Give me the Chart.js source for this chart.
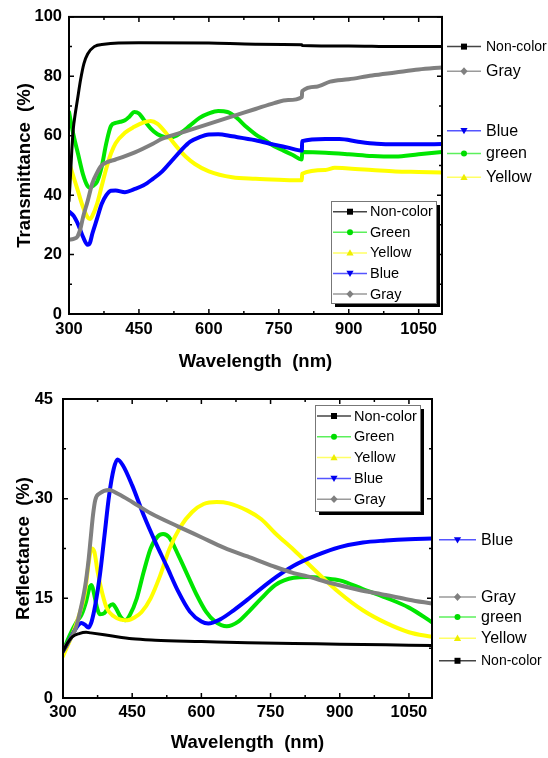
<!DOCTYPE html>
<html>
<head>
<meta charset="utf-8">
<script src="https://cdn.jsdelivr.net/npm/chart.js@4.4.1/dist/chart.umd.min.js"></script>
<style>
  html, body { margin: 0; padding: 0; background: #fff; }
  #wrap { position: relative; width: 548px; height: 758px; }
  .panel { position: absolute; left: 0; width: 548px; }
  #topPanel { top: 0; height: 375px; }
  #botPanel { top: 375px; height: 383px; }
</style>
</head>
<body>
<div id="wrap">
  <div class="panel" id="topPanel"><canvas id="transChart"></canvas></div>
  <div class="panel" id="botPanel"><canvas id="reflChart"></canvas></div>
</div>
<script>
// ---- Axis ticks ----
const xTicks = [300, 450, 600, 750, 900, 1050];
const yTicksT = [0, 20, 40, 60, 80, 100];
const yTicksR = [0, 15, 30, 45];

// ---- Transmittance (top panel) ----
const tNonWl  = [300, 303, 306, 309, 313, 318, 325, 332, 340, 354, 375, 450, 600, 700, 799.5, 800, 900, 1000, 1100];
const tNonVal = [38, 46, 55, 62, 67, 72, 79, 84.3, 87.5, 90, 90.8, 91.3, 91.2, 90.8, 90.6, 90.4, 90.2, 90, 90];

const tGreenWl  = [300, 310, 320, 330, 340, 345, 350, 360, 370, 380, 390, 400, 410, 420, 430, 440, 450, 460, 475, 490, 505, 520, 540, 560, 580, 600, 620, 640, 660, 680, 700, 720, 740, 760, 780, 799.5, 800, 850, 900, 950, 1000, 1050, 1100];
const tGreenVal = [68, 60, 53.5, 47, 43, 42.5, 43, 44.5, 49.5, 57.5, 63.3, 64.3, 64.7, 65.2, 66.5, 68, 67.5, 65.5, 62.5, 60.5, 59.6, 59.5, 61, 63.5, 66, 67.5, 68.3, 68, 66, 63, 60.5, 58.5, 56.5, 55, 53.5, 52, 54.5, 54.3, 53.8, 53.2, 53, 53.8, 54.5];

const tYellowWl  = [300, 310, 320, 330, 340, 345, 350, 360, 370, 380, 390, 400, 420, 440, 460, 475, 490, 510, 530, 550, 570, 600, 650, 700, 750, 799.5, 800, 850, 870, 900, 950, 1000, 1050, 1100];
const tYellowVal = [51, 46, 41, 36, 32.5, 32, 33, 37, 43, 49, 54, 57.5, 61, 63, 64.5, 65, 64, 60.5, 56.5, 53, 50.5, 48, 46, 45.5, 45.2, 45, 47.2, 48.5, 49.2, 49, 48.5, 48, 47.8, 47.6];

const tBlueWl  = [300, 310, 320, 330, 340, 345, 350, 360, 370, 380, 390, 400, 420, 440, 460, 480, 500, 520, 540, 560, 580, 600, 620, 650, 700, 740, 770, 799.5, 800, 850, 880, 920, 960, 1000, 1050, 1100];
const tBlueVal = [34.5, 33, 30, 26, 23.3, 24, 27, 32, 37, 40, 41.5, 41.6, 41, 42, 43.3, 45.5, 48, 51.5, 55, 58, 59.5, 60.4, 60.5, 59.8, 58.5, 57, 56, 55, 58.2, 58.9, 58.9, 58, 57.3, 57.1, 57.1, 57.2];

const tGrayWl  = [300, 310, 318, 325, 330, 340, 350, 360, 370, 380, 400, 440, 480, 500, 550, 600, 650, 700, 740, 770, 799.5, 800, 830, 860, 900, 950, 1000, 1050, 1100];
const tGrayVal = [25, 25.3, 26, 29, 32.5, 38, 44, 47.5, 50, 51, 52, 54.3, 57.3, 59, 61.5, 64, 66.5, 69, 71, 72, 73, 75, 76.5, 78.2, 79, 80.3, 81.3, 82.3, 83];

// ---- Reflectance (bottom panel) ----
const rNonWl  = [300, 310, 320, 335, 350, 360, 400, 450, 500, 600, 700, 800, 900, 1000, 1100];
const rNonVal = [7, 8.3, 9.2, 9.7, 9.9, 9.8, 9.4, 8.9, 8.7, 8.5, 8.3, 8.2, 8.1, 8, 7.9];

const rGreenWl  = [300, 315, 330, 340, 350, 357, 362, 367, 373, 380, 390, 400, 408, 415, 425, 435, 445, 460, 475, 490, 505, 517, 530, 550, 570, 590, 610, 630, 655, 680, 700, 730, 760, 800, 830, 870, 900, 950, 1000, 1050, 1100];
const rGreenVal = [7, 9.5, 11.5, 12.5, 14.5, 16.5, 17, 15.8, 13.8, 12.6, 12.8, 13.8, 14.1, 13.5, 12.2, 11.7, 12.5, 15, 19, 22.5, 24.3, 24.7, 24.2, 21.5, 18.5, 15.5, 13, 11.5, 10.8, 11.5, 12.8, 15, 17, 18.1, 18.2, 18, 17.7, 16.4, 15.1, 13.6, 11.4];

const rYellowWl  = [300, 320, 335, 348, 355, 362, 368, 375, 385, 395, 410, 425, 440, 455, 470, 490, 510, 530, 555, 580, 605, 633, 660, 700, 730, 760, 800, 845, 900, 950, 1000, 1050, 1100];
const rYellowVal = [6.3, 9.5, 12.5, 16, 20, 22.5, 22, 19, 15.8, 13.5, 12.3, 11.8, 11.7, 12.1, 12.9, 15, 18.3, 22.3, 25.8, 28, 29.2, 29.5, 29.3, 28.2, 26.9, 24.8, 22.3, 19.3, 15.8, 13.2, 11.3, 9.9, 9.2];

const rBlueWl  = [300, 310, 320, 330, 340, 348, 355, 362, 370, 380, 390, 400, 410, 418, 430, 450, 475, 500, 525, 550, 575, 600, 615, 640, 670, 700, 750, 800, 850, 900, 950, 1000, 1050, 1100];
const rBlueVal = [7, 8.2, 9.5, 10.7, 11.3, 11, 10.6, 11.5, 14, 18.5, 24.5, 30.5, 34.5, 35.9, 35, 32, 27.5, 23.5, 19.8, 16, 13, 11.5, 11.2, 11.8, 13.2, 14.8, 17.6, 19.9, 21.5, 22.7, 23.4, 23.7, 23.9, 24];

const rGrayWl  = [300, 315, 326, 337, 348, 355, 360, 365, 370, 380, 400, 420, 450, 490, 550, 600, 650, 700, 757, 800, 830, 880, 940, 1000, 1050, 1100];
const rGrayVal = [7.2, 8.8, 10.2, 13, 16.8, 20.5, 24, 27.5, 29.8, 30.8, 31.3, 30.7, 29.5, 27.8, 25.8, 24.2, 22.6, 21.3, 19.8, 18.8, 18.3, 17.3, 16.3, 15.5, 14.8, 14.2];

// ---- Legends ----
const legendNames = ['Non-color', 'Green', 'Yellow', 'Blue', 'Gray'];
const tSideNames  = ['Non-color', 'Gray', 'Blue', 'green', 'Yellow'];
const tSideValues = [90, 81.7, 61.7, 54, 46];
const rSideNames  = ['Blue', 'Gray', 'green', 'Yellow', 'Non-color'];
const rSideValues = [23.8, 15.2, 12.2, 9.0, 5.6];

const FONT = "'Liberation Sans', Arial, sans-serif";
Chart.defaults.font.family = FONT;
Chart.defaults.color = '#000';

// series look, keyed by lower-case name
const STYLE = {
  'non-color': { line: '#000000', leg: '#444444', mark: '#000000', shape: 'square', width: 3 },
  'green':     { line: '#00e600', leg: '#5cf05c', mark: '#00dd00', shape: 'circle', width: 4 },
  'yellow':    { line: '#ffff00', leg: '#ffff66', mark: '#eeee00', shape: 'triUp', width: 4 },
  'blue':      { line: '#0000ff', leg: '#5555ff', mark: '#0000ee', shape: 'triDown', width: 4 },
  'gray':      { line: '#808080', leg: '#9a9a9a', mark: '#808080', shape: 'diamond', width: 4 }
};

function pts(xs, ys) { return xs.map((x, i) => ({ x: x, y: ys[i] })); }

function ds(name, xs, ys) {
  const s = STYLE[name.toLowerCase()];
  return { label: name, data: pts(xs, ys), borderColor: s.line, backgroundColor: s.line, borderWidth: s.width };
}

function drawMarker(ctx, shape, x, y, r, color) {
  ctx.save();
  ctx.fillStyle = color;
  ctx.beginPath();
  if (shape === 'square') ctx.rect(x - r, y - r, 2 * r, 2 * r);
  else if (shape === 'circle') ctx.arc(x, y, r, 0, Math.PI * 2);
  else if (shape === 'triUp') { ctx.moveTo(x, y - r * 1.2); ctx.lineTo(x + r * 1.2, y + r * 0.9); ctx.lineTo(x - r * 1.2, y + r * 0.9); }
  else if (shape === 'triDown') { ctx.moveTo(x, y + r * 1.2); ctx.lineTo(x + r * 1.2, y - r * 0.9); ctx.lineTo(x - r * 1.2, y - r * 0.9); }
  else if (shape === 'diamond') { ctx.moveTo(x, y - r * 1.3); ctx.lineTo(x + r * 1.2, y); ctx.lineTo(x, y + r * 1.3); ctx.lineTo(x - r * 1.2, y); }
  ctx.closePath();
  ctx.fill();
  ctx.restore();
}

function legendEntry(ctx, name, x0, x1, y, textX, size) {
  const s = STYLE[name.toLowerCase()];
  ctx.strokeStyle = s.leg;
  ctx.lineWidth = 1.5;
  ctx.beginPath(); ctx.moveTo(x0, y); ctx.lineTo(x1, y); ctx.stroke();
  drawMarker(ctx, s.shape, (x0 + x1) / 2, y, 3, s.mark);
  ctx.fillStyle = '#000';
  ctx.font = size + 'px ' + FONT;
  ctx.textAlign = 'left';
  ctx.textBaseline = 'middle';
  ctx.fillText(name, textX, y + 0.5);
}

// Origin-style frame with inward ticks, inner legend and end labels
const originDecor = {
  id: 'originDecor',
  afterDraw(chart) {
    const cfg = chart.options.plugins.originDecor;
    const { ctx, chartArea: a, scales: { x, y } } = chart;
    ctx.save();
    // frame
    ctx.strokeStyle = '#000';
    ctx.lineWidth = 2;
    ctx.strokeRect(a.left, a.top, a.right - a.left, a.bottom - a.top);
    // ticks, major + minor, on all four sides
    ctx.lineWidth = 1.5;
    const xs = [], ys = [];
    xTicks.forEach(v => { xs.push([v, 5]); if (v + 75 < x.max) xs.push([v + 75, 3]); });
    cfg.yTicks.forEach((v, i) => {
      ys.push([v, 5]);
      if (i < cfg.yTicks.length - 1) ys.push([(v + cfg.yTicks[i + 1]) / 2, 3]);
    });
    ctx.beginPath();
    xs.forEach(([v, len]) => {
      const px = x.getPixelForValue(v);
      ctx.moveTo(px, a.bottom); ctx.lineTo(px, a.bottom - len);
      ctx.moveTo(px, a.top); ctx.lineTo(px, a.top + len);
    });
    ys.forEach(([v, len]) => {
      const py = y.getPixelForValue(v);
      ctx.moveTo(a.left, py); ctx.lineTo(a.left + len, py);
      ctx.moveTo(a.right, py); ctx.lineTo(a.right - len, py);
    });
    ctx.stroke();

    // inner legend box with shadow
    const b = cfg.box;
    const bx = a.right - b.dxRight, by = b.fromTop ? a.top + b.dy : a.bottom - b.dy;
    ctx.fillStyle = '#000';
    ctx.fillRect(bx + 4, by + 4, b.w, b.h);
    ctx.fillStyle = '#fff';
    ctx.fillRect(bx, by, b.w, b.h);
    ctx.strokeStyle = '#777';
    ctx.lineWidth = 1;
    ctx.strokeRect(bx + 0.5, by + 0.5, b.w, b.h);
    legendNames.forEach((n, i) => {
      legendEntry(ctx, n, bx + 2, bx + 36, by + b.first + i * b.step, bx + 39, 14.5);
    });

    // end labels to the right of the frame
    cfg.sideNames.forEach((n, i) => {
      const py = y.getPixelForValue(cfg.sideValues[i]);
      const size = n === 'Non-color' ? 14 : 16;
      legendEntry(ctx, n, a.right + cfg.side[0], a.right + cfg.side[1], py, a.right + cfg.side[2], size);
    });
    ctx.restore();
  }
};

function axisX(height, tickPad, titlePad) {
  return {
    type: 'linear', min: 300, max: 1100,
    afterFit: s => { s.height = height; },
    afterBuildTicks: s => { s.ticks = xTicks.map(v => ({ value: v })); },
    grid: { display: false, drawTicks: false },
    border: { display: false },
    ticks: { padding: tickPad, autoSkip: false, maxRotation: 0, color: '#000', font: { size: 16.5, weight: 'bold' },
             callback: v => String(v) },
    title: { display: true, text: 'Wavelength  (nm)', color: '#000', font: { size: 18.5, weight: 'bold' }, padding: { top: 0, bottom: titlePad } }
  };
}

function axisY(max, ticks, width, tickPad, titlePad, title) {
  return {
    type: 'linear', min: 0, max: max,
    afterFit: s => { s.width = width; },
    afterBuildTicks: s => { s.ticks = ticks.map(v => ({ value: v })); },
    grid: { display: false, drawTicks: false },
    border: { display: false },
    ticks: { padding: tickPad, color: '#000', font: { size: 16.5, weight: 'bold' }, callback: v => String(v) },
    title: { display: true, text: title, color: '#000', font: { size: 18.5, weight: 'bold' }, padding: { top: titlePad, bottom: 0 } }
  };
}

function baseOptions(padding, x, y, decor) {
  return {
    responsive: true,
    maintainAspectRatio: false,
    animation: false,
    layout: { padding: padding },
    elements: { point: { radius: 0 }, line: { cubicInterpolationMode: 'monotone', borderCapStyle: 'round', borderJoinStyle: 'round' } },
    plugins: { legend: { display: false }, tooltip: { enabled: false }, originDecor: decor },
    scales: { x: x, y: y }
  };
}

new Chart(document.getElementById('transChart'), {
  type: 'line',
  data: {
    datasets: [
      ds('Non-color', tNonWl, tNonVal),
      ds('Gray', tGrayWl, tGrayVal),
      ds('Blue', tBlueWl, tBlueVal),
      ds('Yellow', tYellowWl, tYellowVal),
      ds('Green', tGreenWl, tGreenVal)
    ]
  },
  options: baseOptions(
    { top: 13, right: 106, left: 0, bottom: 0 },
    axisX(61, 6, 2),
    axisY(100, yTicksT, 69, 7, 14, 'Transmittance  (%)'),
    { yTicks: yTicksT, sideNames: tSideNames, sideValues: tSideValues, side: [5, 39, 44],
      box: { dxRight: 111, dy: 113, fromTop: false, w: 105, h: 102, first: 10.7, step: 20.6 } }
  ),
  plugins: [originDecor]
});

new Chart(document.getElementById('reflChart'), {
  type: 'line',
  data: {
    datasets: [
      ds('Non-color', rNonWl, rNonVal),
      ds('Gray', rGrayWl, rGrayVal),
      ds('Blue', rBlueWl, rBlueVal),
      ds('Yellow', rYellowWl, rYellowVal),
      ds('Green', rGreenWl, rGreenVal)
    ]
  },
  options: baseOptions(
    { top: 24, right: 116, left: 0, bottom: 0 },
    axisX(60, 5, 4),
    axisY(45, yTicksR, 63, 10, 13, 'Reflectance  (%)'),
    { yTicks: yTicksR, sideNames: rSideNames, sideValues: rSideValues, side: [7, 44, 49],
      box: { dxRight: 117, dy: 6, fromTop: true, w: 105, h: 106, first: 11, step: 20.8 } }
  ),
  plugins: [originDecor]
});
</script>
</body>
</html>
